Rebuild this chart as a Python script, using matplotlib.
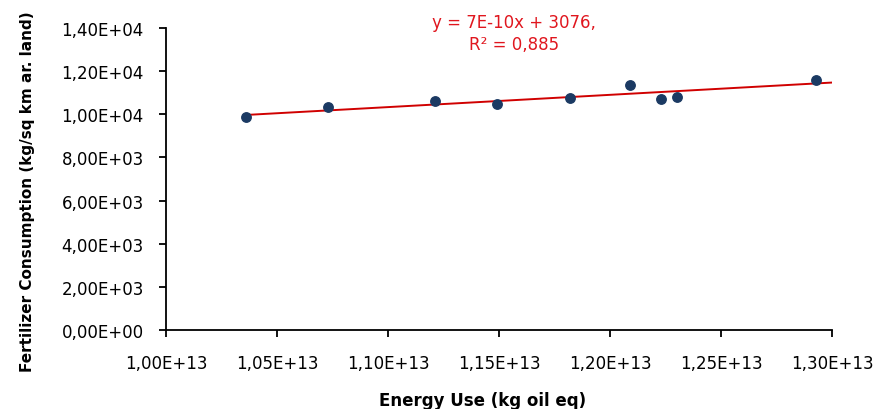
import matplotlib
matplotlib.use("Agg")
import matplotlib.pyplot as plt
import numpy as np
from matplotlib.ticker import FuncFormatter

# energy use (kg oil eq) vs fertilizer consumption
energy = [1.036e13, 1.073e13, 1.121e13, 1.149e13, 1.182e13,
          1.209e13, 1.223e13, 1.230e13, 1.293e13]
fertilizer = [9860, 10325, 10600, 10465, 10770,
              11345, 10720, 10815, 11600]

eq_text = "y = 7E-10x + 3076,\nR² = 0,885"

plt.rcParams['font.family'] = ['DejaVu Sans']


def sci_comma(v, pos):
    s = "%.2E" % v
    return s.replace(".", ",")


fig = plt.figure(figsize=(8.86, 4.10), dpi=100)
ax = fig.add_axes([166 / 886, 1 - 331 / 410, 666 / 886, 302 / 410])

# linear trendline
k, b = np.polyfit(energy, fertilizer, 1)
xt = np.array([min(energy), 1.30e13])
ax.plot(xt, k * xt + b, color='#d00000', lw=1.4, zorder=2)

ax.plot(energy, fertilizer, 'o', color='#1b3a63', ms=6.8, zorder=3)

ax.set_xlim(1.0e13, 1.30e13)
ax.set_ylim(0, 14000)
ax.set_xticks(np.arange(1.0e13, 1.3001e13, 0.05e13))
ax.set_yticks(np.arange(0, 14001, 2000))
ax.xaxis.set_major_formatter(FuncFormatter(sci_comma))
ax.yaxis.set_major_formatter(FuncFormatter(sci_comma))

for s in ['top', 'right']:
    ax.spines[s].set_visible(False)
for s in ['left', 'bottom']:
    ax.spines[s].set_linewidth(1.3)
ax.tick_params(direction='out', length=5, width=1.3, labelsize=12,
               colors='black')
ax.tick_params(axis='y', pad=11)
ax.tick_params(axis='x', pad=12)

ax.set_xlabel("Energy Use (kg oil eq)", fontsize=12, fontweight='bold')
ax.xaxis.set_label_coords(0.476, -0.203)
ax.set_ylabel("Fertilizer Consumption (kg/sq km ar. land)", fontsize=11,
              fontweight='bold')
ax.yaxis.set_label_coords(-0.197, 0.46)

ax.text(1.1568e13, 14680, eq_text, color='#e0161e', fontsize=12,
        ha='center', va='top', linespacing=1.25)

fig.savefig("out.png", dpi=100)
